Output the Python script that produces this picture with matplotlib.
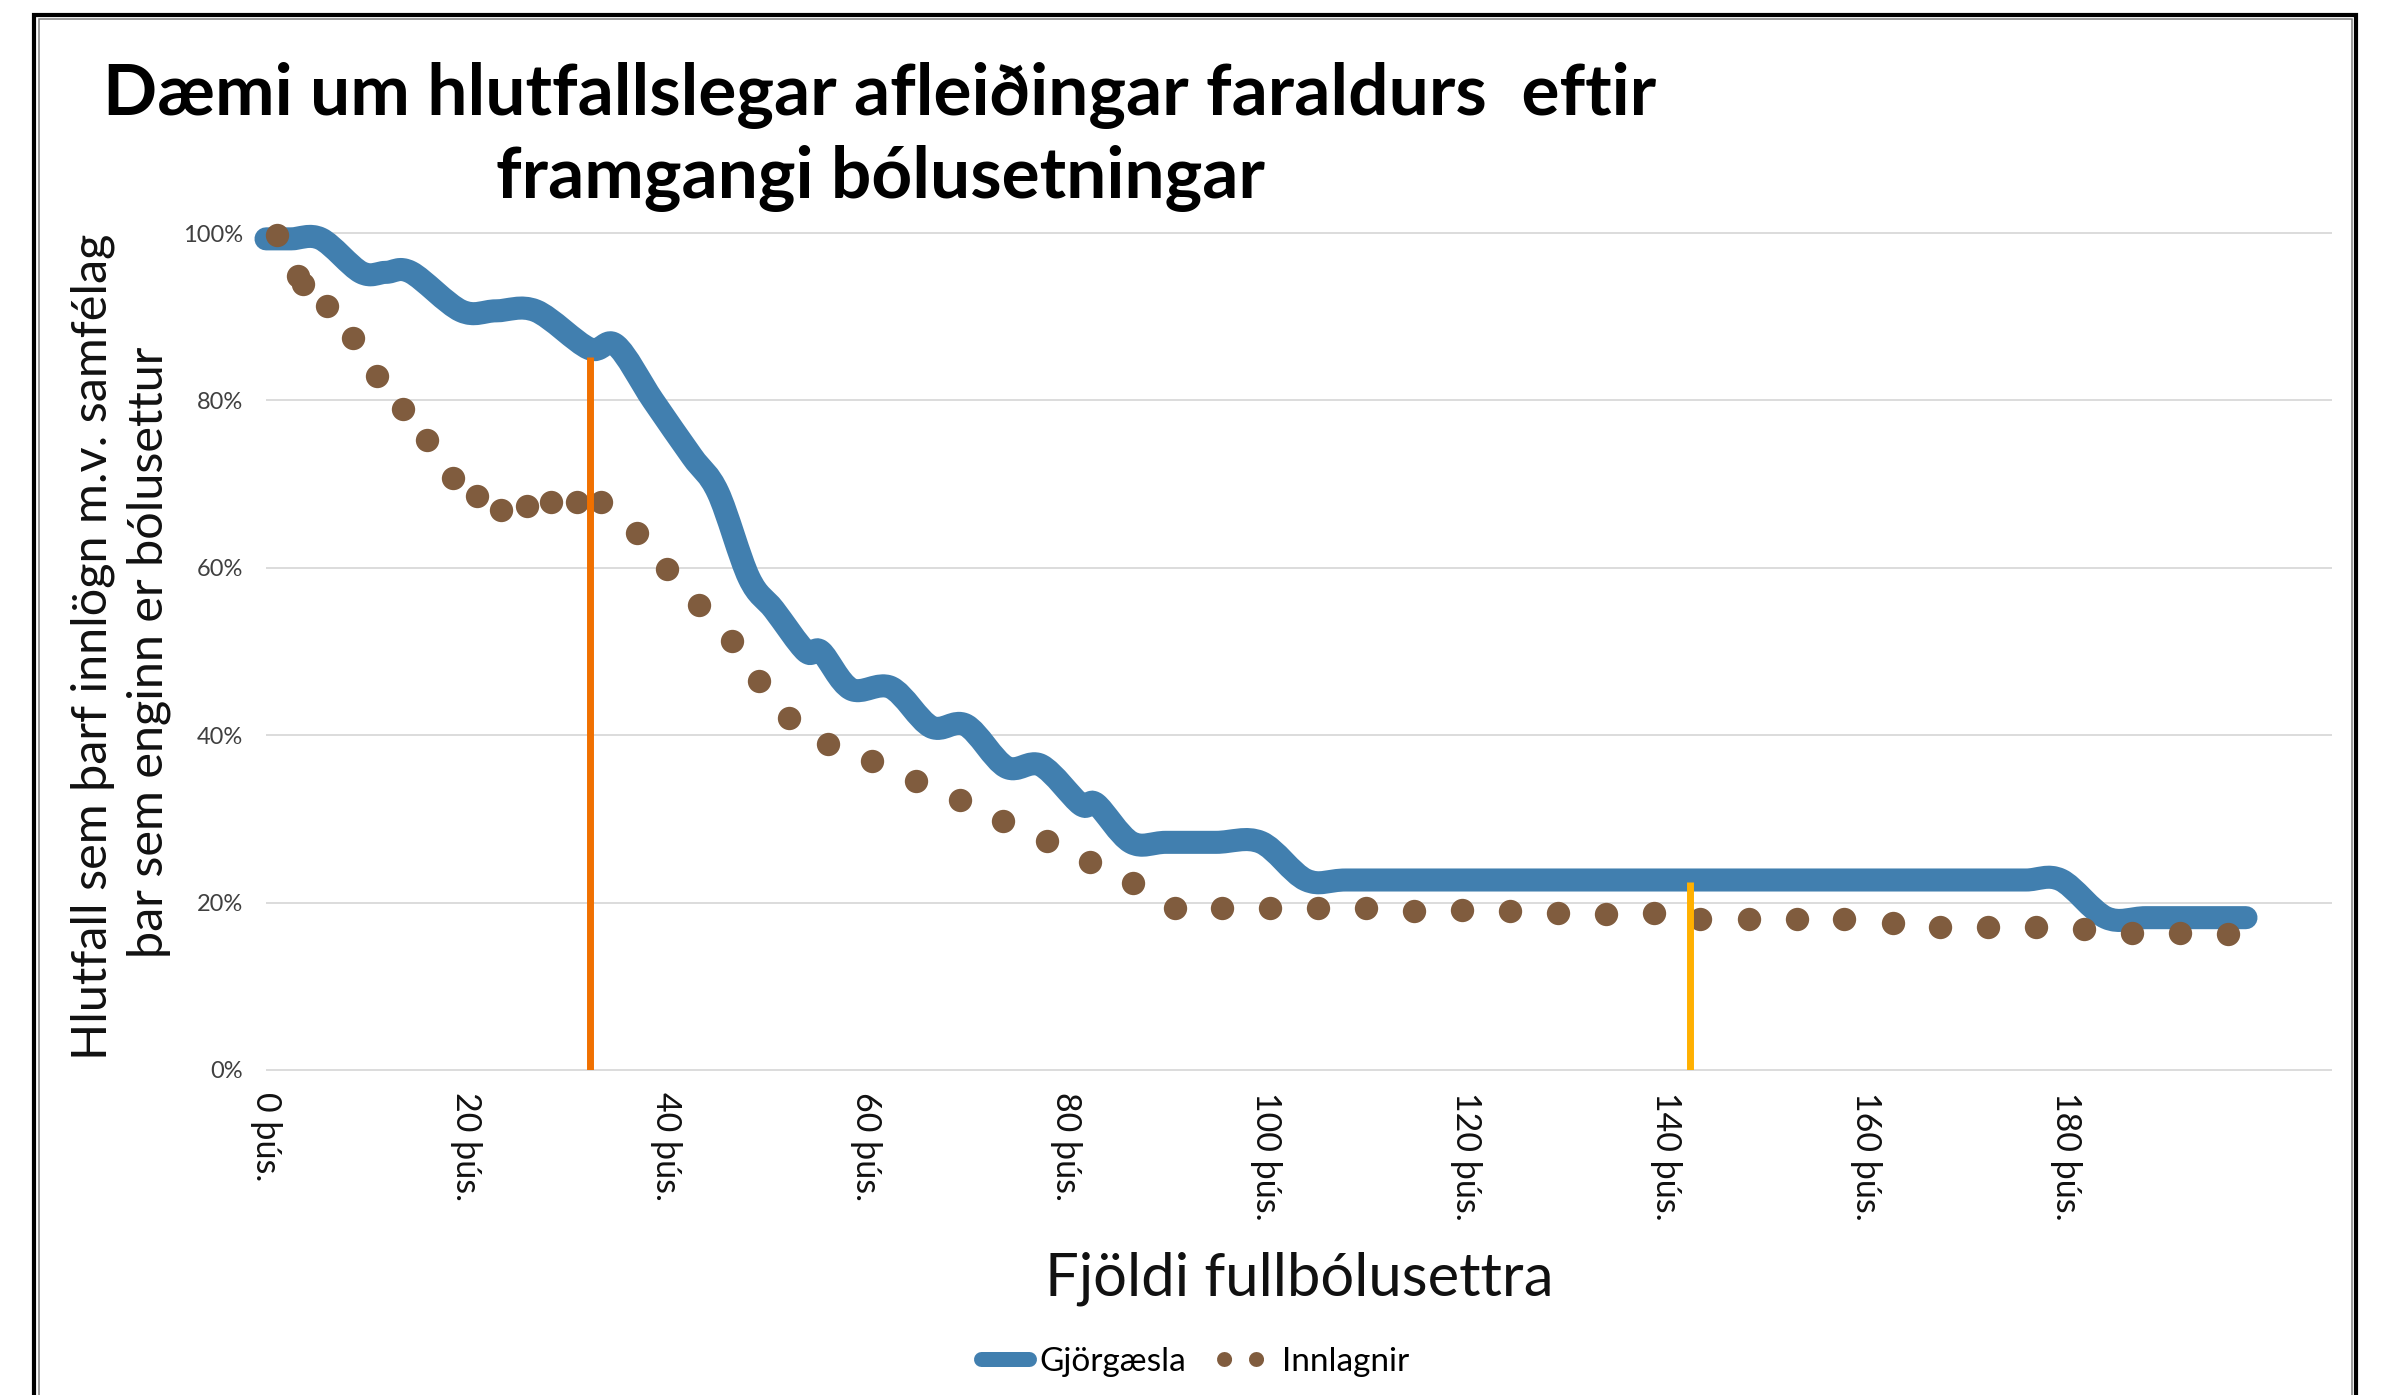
import numpy as np
import matplotlib
matplotlib.use("Agg")
import matplotlib.pyplot as plt
from matplotlib.path import Path
from matplotlib.patches import PathPatch, Rectangle
from matplotlib.lines import Line2D

# ---------------- data ----------------
title_lines = ["Dæmi um hlutfallslegar afleiðingar faraldurs  eftir",
               "framgangi bólusetningar"]
ylabel_lines = ["Hlutfall sem þarf innlögn m.v. samfélag",
                "þar sem enginn er bólusettur"]
xlabel = "Fjöldi fullbólusettra"
series_names = ["Gjörgæsla", "Innlagnir"]

# x in thousands of fully vaccinated people, y as share (1.0 = 100%)
icu_x = [0, 2.5, 5.5, 9.5, 12, 14.5, 19.5, 23, 27, 32.3, 35, 38.7, 42.6, 45.2,
         48.3, 50.8, 54, 55.5, 58.5, 62.5, 66.5, 70, 74, 77.5, 81.5, 83, 86.5,
         90, 95, 99.5, 104, 108, 115, 125, 135, 145, 155, 165, 172, 176, 179.5,
         184, 188, 193, 198]
icu_y = [0.993, 0.993, 0.993, 0.953, 0.953, 0.953, 0.907, 0.907, 0.907, 0.862,
         0.866, 0.800, 0.733, 0.690, 0.588, 0.550, 0.500, 0.500, 0.455, 0.457,
         0.410, 0.412, 0.362, 0.364, 0.317, 0.318, 0.272, 0.272, 0.272, 0.272,
         0.227, 0.227, 0.227, 0.227, 0.227, 0.227, 0.227, 0.227, 0.227, 0.227,
         0.227, 0.182, 0.182, 0.182, 0.182]

# dotted series: each visible dot
hosp_x = [1.08, 3.22, 3.67, 6.08, 8.67, 11.08, 13.67, 16.08, 18.71, 21.08,
          23.49, 26.08, 28.49, 31.08, 33.49, 37.13, 40.13, 43.3, 46.56, 49.32,
          52.33, 56.16, 60.64, 64.98, 69.42, 73.66, 78.09, 82.38, 86.72, 90.85,
          95.6, 100.4, 105.15, 110.0, 114.8, 119.6, 124.4, 129.2, 134.0, 138.8,
          143.4, 148.3, 153.1, 157.8, 162.7, 167.4, 172.2, 177.0, 181.8, 186.6,
          191.4, 196.2]
hosp_y = [0.998, 0.949, 0.939, 0.913, 0.875, 0.829, 0.790, 0.753, 0.707, 0.686,
          0.669, 0.674, 0.679, 0.679, 0.679, 0.642, 0.598, 0.555, 0.513, 0.465,
          0.421, 0.389, 0.369, 0.345, 0.323, 0.297, 0.274, 0.248, 0.224, 0.194,
          0.193, 0.193, 0.193, 0.193, 0.190, 0.191, 0.190, 0.188, 0.186, 0.187,
          0.181, 0.181, 0.181, 0.181, 0.176, 0.171, 0.171, 0.171, 0.168, 0.164,
          0.164, 0.163]

marker_x = [32.4, 142.4]
marker_top = [0.852, 0.225]
marker_colors = ["#F07000", "#FFB000"]

xticks = [0, 20, 40, 60, 80, 100, 120, 140, 160, 180]
xtick_labels = [f"{v} þús." for v in xticks]
yticks = [0, 0.2, 0.4, 0.6, 0.8, 1.0]
ytick_labels = ["0%", "20%", "40%", "60%", "80%", "100%"]

BLUE = "#417FAF"
BROWN = "#805C3E"

plt.rcParams["font.family"] = ["Lato", "DejaVu Sans"]

W, H = 2387, 1395
fig = plt.figure(figsize=(W / 100, H / 100), dpi=100)


def smooth_path(xs, ys):
    """Smoothed (Catmull-Rom style Bezier) path through the data points."""
    pts = np.column_stack([xs, ys]).astype(float)
    n = len(pts)
    verts = [pts[0]]
    codes = [Path.MOVETO]
    for i in range(n - 1):
        p0 = pts[i - 1] if i > 0 else pts[i]
        p1 = pts[i]
        p2 = pts[i + 1]
        p3 = pts[i + 2] if i + 2 < n else pts[i + 1]
        c1 = p1 + (p2 - p0) / 6.0
        c2 = p2 - (p3 - p1) / 6.0
        verts += [c1, c2, p2]
        codes += [Path.CURVE4] * 3
    return Path(verts, codes)


ax = fig.add_axes([266 / W, 1 - 1070 / H, (2332 - 266) / W, (1070 - 233) / H])
ax.set_xlim(0, 206.6)
ax.set_ylim(0, 1)
for s in ax.spines.values():
    s.set_visible(False)

# gridlines
ax.hlines(yticks, 0, 206.6, colors="#D9D9D9", lw=1.3, zorder=0, clip_on=False)

# series
icu_patch = PathPatch(smooth_path(icu_x, icu_y), fill=False, edgecolor=BLUE,
                      lw=16.6, capstyle="round", joinstyle="round",
                      zorder=2, clip_on=False)
ax.add_patch(icu_patch)
ax.plot(hosp_x, hosp_y, ls="none", marker="o", ms=16.8, mew=0, color=BROWN,
        zorder=3, clip_on=False)

# vertical markers
ax.vlines(marker_x, 0, marker_top, colors=marker_colors, lw=5, zorder=4)

# ticks
ax.set_xticks(xticks)
ax.set_xticklabels(xtick_labels, rotation=-90, fontsize=24.5, color="#111111")
ax.set_yticks(yticks)
ax.set_yticklabels(ytick_labels, fontsize=17, color="#404040")
ax.tick_params(axis="x", length=0, pad=16)
ax.tick_params(axis="y", length=0, pad=16.5)

# titles
fig.text(880 / W, 1 - 115 / H, title_lines[0], fontsize=51.3, fontweight="bold",
         ha="center", va="baseline")
fig.text(880 / W, 1 - 198 / H, title_lines[1], fontsize=51.3, fontweight="bold",
         ha="center", va="baseline")

fig.text(107 / W, 1 - 647 / H, ylabel_lines[0], fontsize=35,
         rotation=90, rotation_mode="anchor", ha="center", va="baseline",
         color="#111111")
fig.text(163 / W, 1 - 652 / H, ylabel_lines[1], fontsize=35,
         rotation=90, rotation_mode="anchor", ha="center", va="baseline",
         color="#111111")

fig.text(1299 / W, 1 - 1295 / H, xlabel, fontsize=43,
         ha="center", va="baseline", color="#111111")

# legend
h1 = Line2D([], [], color=BLUE, lw=10.8, solid_capstyle="round")
h2 = Line2D([], [], color=BROWN, lw=10.8, linestyle=(0, (0.01, 2.12)),
            dash_capstyle="round")
fig.legend([h1, h2], series_names, loc="center",
           bbox_to_anchor=(1195 / W, 1 - 1362 / H), ncol=2, frameon=False,
           fontsize=24, handlelength=1.44, handletextpad=0.3,
           columnspacing=1.14)

# border frame (double line)
fig.add_artist(Rectangle((34 / W, -0.1), (2356 - 34) / W, 1.1 - 15.5 / H,
                         transform=fig.transFigure, fill=False,
                         edgecolor="black", lw=3, clip_on=False))
fig.add_artist(Rectangle((38.5 / W, -0.1), (2352 - 38.5) / W, 1.1 - 19.5 / H,
                         transform=fig.transFigure, fill=False,
                         edgecolor="#808080", lw=1.1, clip_on=False))

fig.savefig("out.png", dpi=100)
